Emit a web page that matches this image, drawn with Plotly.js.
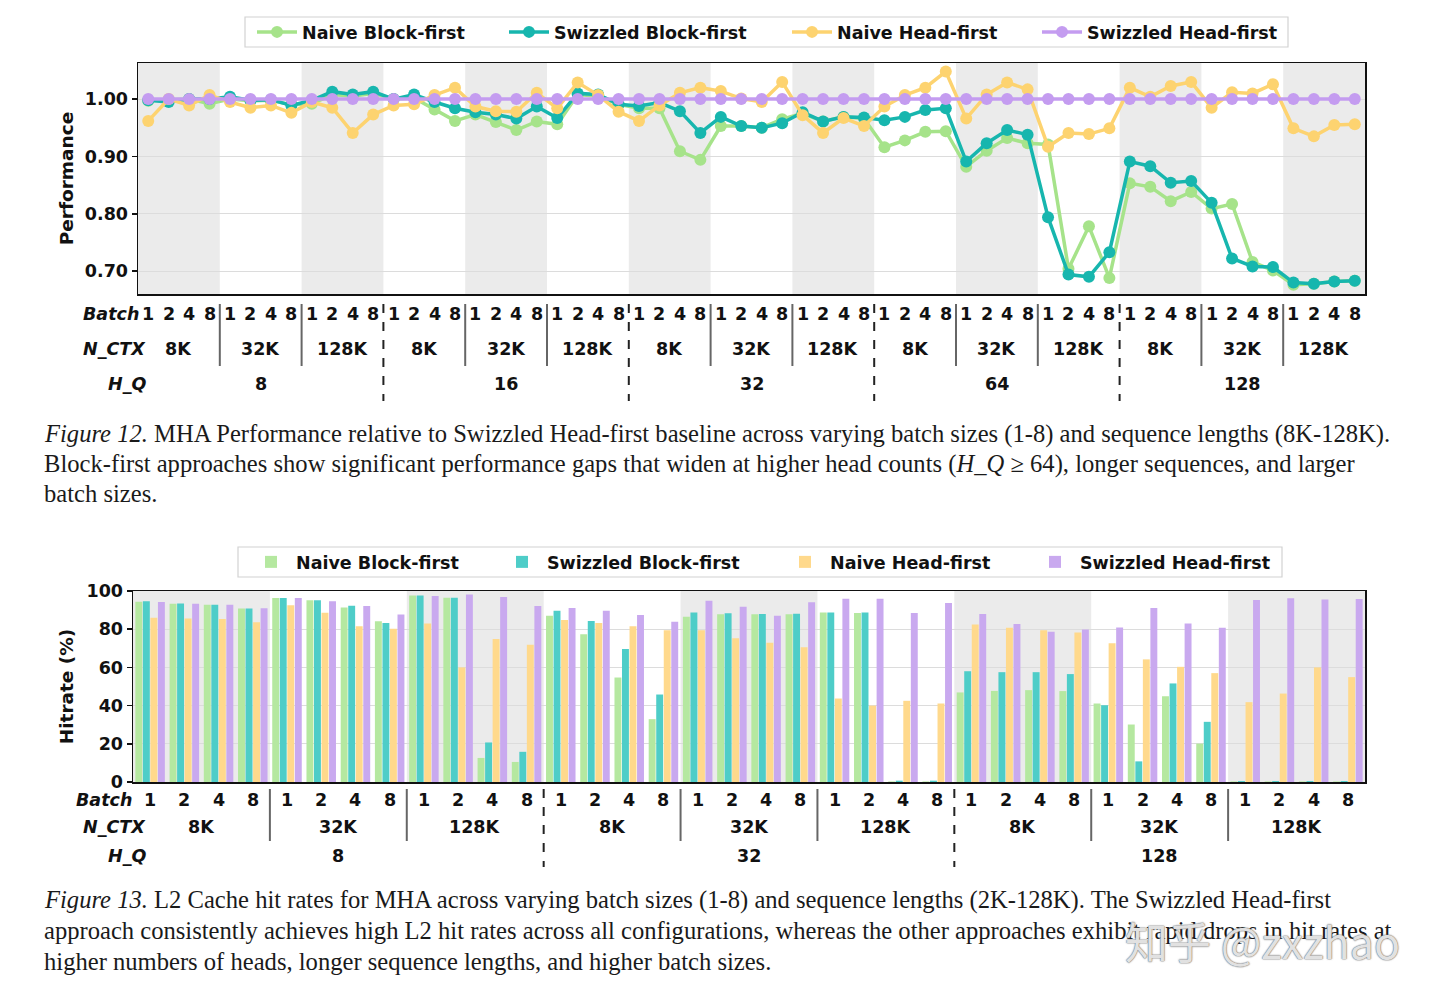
<!DOCTYPE html>
<html>
<head>
<meta charset="utf-8">
<script src="https://cdn.plot.ly/plotly-3.0.1.min.js"></script>
<style>
html,body{margin:0;padding:0;background:#fff;}
#chart{width:1440px;height:996px;}
</style>
</head>
<body>
<div id="chart"></div>
<script>
// ---------- DATA ----------
const seriesNames = ['Naive Block-first', 'Swizzled Block-first', 'Naive Head-first', 'Swizzled Head-first'];
const batchLabels = ['1', '2', '4', '8'];
const ctxLabels = ['8K', '32K', '128K'];
const hqTop = ['8', '16', '32', '64', '128'];
const hqBottom = ['8', '32', '128'];

// Figure 12: relative performance (60 configs: H_Q x N_CTX x Batch)
const perfNaiveBlock = [
  0.997, 0.999, 1.000, 0.992, 1.000, 0.997, 0.998, 0.990, 0.992, 1.008, 1.005, 1.010,
  1.000, 1.002, 0.982, 0.962, 0.973, 0.960, 0.946, 0.961, 0.956, 1.008, 1.005, 0.991,
  0.984, 0.984, 0.909, 0.894, 0.953, 0.953, 0.950, 0.965, 0.975, 0.961, 0.969, 0.966,
  0.916, 0.928, 0.943, 0.944, 0.882, 0.910, 0.932, 0.923, 0.921, 0.704, 0.778, 0.688,
  0.853, 0.847, 0.822, 0.838, 0.809, 0.817, 0.716, 0.701, 0.676, 0.678, 0.682, 0.683];
const perfSwizzledBlock = [
  0.998, 0.995, 1.000, 1.000, 1.004, 0.998, 0.999, 0.989, 0.998, 1.013, 1.008, 1.013,
  1.000, 1.008, 0.995, 0.984, 0.977, 0.973, 0.966, 0.987, 0.967, 1.010, 1.008, 0.991,
  0.988, 0.994, 0.979, 0.941, 0.969, 0.953, 0.950, 0.958, 0.977, 0.961, 0.969, 0.968,
  0.963, 0.969, 0.981, 0.984, 0.891, 0.923, 0.946, 0.938, 0.794, 0.694, 0.690, 0.733,
  0.891, 0.883, 0.854, 0.857, 0.819, 0.722, 0.708, 0.707, 0.680, 0.678, 0.682, 0.683];
const perfNaiveHead = [
  0.962, 1.000, 0.989, 1.007, 0.995, 0.985, 0.989, 0.976, 0.995, 0.985, 0.941, 0.973,
  0.989, 0.991, 1.007, 1.020, 0.987, 0.979, 0.978, 1.011, 0.984, 1.029, 1.007, 0.978,
  0.962, 0.989, 1.011, 1.020, 1.014, 1.001, 0.995, 1.030, 0.972, 0.941, 0.967, 0.953,
  0.987, 1.007, 1.020, 1.048, 0.966, 1.008, 1.029, 1.017, 0.917, 0.941, 0.939, 0.949,
  1.020, 1.004, 1.023, 1.030, 0.985, 1.012, 1.010, 1.026, 0.949, 0.935, 0.955, 0.956];
const perfSwizzledHead = [
  1,1,1,1,1,1,1,1,1,1,1,1, 1,1,1,1,1,1,1,1,1,1,1,1, 1,1,1,1,1,1,1,1,1,1,1,1,
  1,1,1,1,1,1,1,1,1,1,1,1, 1,1,1,1,1,1,1,1,1,1,1,1];

// Figure 13: L2 hit rate % (36 configs: H_Q x N_CTX x Batch)
const hitNaiveBlock = [
  94.4, 93.3, 92.8, 90.9, 96.3, 95.1, 91.4, 84.2, 97.7, 96.5, 12.6, 10.5,
  87.1, 77.4, 54.7, 32.9, 86.5, 87.8, 87.8, 87.8, 88.8, 88.5, 0.3, 0.3,
  46.9, 47.7, 48.1, 47.6, 41.1, 30.1, 44.9, 20.1, 0.3, 0.3, 0.3, 0.3];
const hitSwizzledBlock = [
  94.6, 93.5, 92.8, 90.9, 96.3, 95.1, 92.3, 83.2, 97.7, 96.5, 20.7, 15.8,
  89.7, 84.3, 69.6, 45.8, 88.8, 88.3, 87.9, 88.1, 88.8, 88.8, 0.7, 0.7,
  58.0, 57.5, 57.5, 56.5, 40.2, 10.8, 51.6, 31.5, 0.5, 0.5, 0.5, 0.5];
const hitNaiveHead = [
  86.0, 85.6, 85.4, 83.7, 92.5, 88.6, 81.6, 80.2, 83.0, 60.0, 74.9, 71.9,
  84.8, 83.2, 81.6, 79.5, 79.5, 75.3, 72.9, 70.6, 43.7, 40.0, 42.5, 41.1,
  82.5, 80.8, 79.5, 78.3, 72.6, 64.2, 60.3, 57.0, 41.8, 46.3, 60.0, 54.9];
const hitSwizzledHead = [
  94.2, 93.3, 92.8, 91.0, 96.3, 94.6, 92.1, 87.7, 97.4, 98.2, 96.8, 92.1,
  91.1, 89.7, 87.4, 83.9, 94.9, 91.8, 87.1, 94.1, 96.0, 96.0, 88.5, 93.7,
  87.9, 82.7, 78.7, 79.9, 80.9, 91.1, 83.0, 80.8, 95.3, 96.2, 95.6, 95.8];

const perfYTicks = [0.70, 0.80, 0.90, 1.00];
const hitYTicks = [0, 20, 40, 60, 80, 100];

const captions12 = [
  '<i>Figure 12.</i> MHA Performance relative to Swizzled Head-first baseline across varying batch sizes (1-8) and sequence lengths (8K-128K).',
  'Block-first approaches show significant performance gaps that widen at higher head counts (<i>H_Q</i> ≥ 64), longer sequences, and larger',
  'batch sizes.'];
const captions13 = [
  '<i>Figure 13.</i> L2 Cache hit rates for MHA across varying batch sizes (1-8) and sequence lengths (2K-128K). The Swizzled Head-first',
  'approach consistently achieves high L2 hit rates across all configurations, whereas the other approaches exhibit rapid drops in hit rates at',
  'higher numbers of heads, longer sequence lengths, and higher batch sizes.'];

// ---------- STYLE ----------
const W = 1440, H = 996;
const px = v => v / W;
const py = v => 1 - v / H;
const lineColors = ['#a6e38a', '#17b6ae', '#fdd370', '#c49cf0'];
const barColors = ['#b5e8a0', '#4ecdc8', '#ffd98c', '#c9a9ef'];
const FONT = 'DejaVu Sans, Liberation Sans, sans-serif';
const boldFont = (size, color) => ({family: FONT, size: size, color: color || '#111', weight: 'bold'});
const bi = (size) => ({family: FONT, size: size, color: '#111', weight: 'bold', style: 'italic'});

const perfSeries = [perfNaiveBlock, perfSwizzledBlock, perfNaiveHead, perfSwizzledHead];
const hitSeries = [hitNaiveBlock, hitSwizzledBlock, hitNaiveHead, hitSwizzledHead];

// legend text start positions (px) for each entry
const topLegendTextX = [303, 555, 838, 1088];
const botLegendTextX = [297, 548, 831, 1081];

const nTop = perfNaiveBlock.length;
const nBot = hitNaiveBlock.length;
const xTop = perfNaiveBlock.map((_, i) => i);
const xBot = hitNaiveBlock.map((_, i) => i);

const legendId = k => (k === 0 ? 'legend' : 'legend' + (k + 1));

const traces = [];
perfSeries.forEach((ys, k) => {
  traces.push({
    type: 'scatter', mode: 'lines+markers', name: seriesNames[k],
    x: xTop, y: ys, xaxis: 'x', yaxis: 'y', legend: legendId(k),
    line: {color: lineColors[k], width: 3.5},
    marker: {color: lineColors[k], size: 12},
    cliponaxis: false
  });
});
hitSeries.forEach((ys, k) => {
  traces.push({
    type: 'bar', name: seriesNames[k],
    x: xBot, y: ys, xaxis: 'x2', yaxis: 'y2', legend: legendId(k + 4),
    marker: {color: barColors[k], line: {width: 0}}
  });
});

// ---------- SHAPES (bands & separators & legend frames) ----------
const shapes = [];
function addGroupDecor(nGroups, xref, yDomRef, ySolid, yDash, yTopSep) {
  for (let g = 0; g < nGroups; g++) {
    if (g % 2 === 0) {
      shapes.push({type: 'rect', xref: xref, yref: yDomRef, x0: 4 * g - 0.5, x1: 4 * g + 3.5, y0: 0, y1: 1,
        fillcolor: '#ebebeb', line: {width: 0}, layer: 'below'});
    }
    if (g > 0) {
      const dashed = g % 3 === 0;
      shapes.push({type: 'line', xref: xref, yref: 'paper', x0: 4 * g - 0.5, x1: 4 * g - 0.5,
        y0: py(yTopSep), y1: py(dashed ? yDash : ySolid),
        line: {color: dashed ? '#222' : '#666', width: 2, dash: dashed ? 'dash' : 'solid'}});
    }
  }
}
addGroupDecor(nTop / 4, 'x', 'y domain', 366, 401, 304);
addGroupDecor(nBot / 4, 'x2', 'y2 domain', 841, 867, 789);

function legendFrame(x0, x1, y0, y1) {
  shapes.push({type: 'rect', xref: 'paper', yref: 'paper', x0: px(x0), x1: px(x1), y0: py(y1), y1: py(y0),
    fillcolor: 'rgba(255,255,255,0.85)', line: {color: '#d2d2d2', width: 1.2}, layer: 'above'});
}
legendFrame(245, 1288, 17, 47);
legendFrame(238, 1282, 547, 577);

// ---------- ANNOTATIONS (hierarchical x labels, captions) ----------
const annotations = [];
function addRows(n, xref, hqList, yB, yC, yH, batchRight) {
  for (let i = 0; i < n; i++) {
    annotations.push({xref: xref, yref: 'paper', x: i, y: py(yB), text: batchLabels[i % 4],
      showarrow: false, font: boldFont(17.5), xanchor: 'center', yanchor: 'middle'});
  }
  for (let g = 0; g < n / 4; g++) {
    annotations.push({xref: xref, yref: 'paper', x: 4 * g + 1.5, y: py(yC), text: ctxLabels[g % 3],
      showarrow: false, font: boldFont(17.5), xanchor: 'center', yanchor: 'middle'});
  }
  hqList.forEach((h, j) => {
    annotations.push({xref: xref, yref: 'paper', x: 12 * j + 5.5, y: py(yH), text: h,
      showarrow: false, font: boldFont(17.5), xanchor: 'center', yanchor: 'middle'});
  });
  annotations.push({xref: 'paper', yref: 'paper', x: px(batchRight), y: py(yB), text: 'Batch',
    showarrow: false, font: bi(17.5), xanchor: 'right', yanchor: 'middle'});
  annotations.push({xref: 'paper', yref: 'paper', x: px(148), y: py(yC), text: 'N_CTX',
    showarrow: false, font: bi(17.5), xanchor: 'right', yanchor: 'middle'});
  annotations.push({xref: 'paper', yref: 'paper', x: px(148), y: py(yH), text: 'H_Q',
    showarrow: false, font: bi(17.5), xanchor: 'right', yanchor: 'middle'});
}
addRows(nTop, 'x', hqTop, 314, 349, 384, 141);
addRows(nBot, 'x2', hqBottom, 800, 827, 856, 134);

const capFont = {family: 'Liberation Serif, Times New Roman, serif', size: 24.6, color: '#1a1a1a'};
captions12.forEach((t, i) => annotations.push({xref: 'paper', yref: 'paper', x: px(42), y: py(434 + 30 * i),
  text: t, showarrow: false, xanchor: 'left', yanchor: 'middle', font: capFont}));
captions13.forEach((t, i) => annotations.push({xref: 'paper', yref: 'paper', x: px(42), y: py(900 + 30.5 * i),
  text: t, showarrow: false, xanchor: 'left', yanchor: 'middle', font: capFont}));
annotations.push({xref: 'paper', yref: 'paper', x: px(1262), y: py(940), text: '知乎 @zxzhao',
  showarrow: false, xanchor: 'center', yanchor: 'middle',
  font: {family: 'Noto Sans CJK SC, DejaVu Sans, sans-serif', size: 43, color: 'rgba(255,255,255,0.8)',
    shadow: '0 0 1.5px #777, 0 0 1.5px #777, 0 0 1px #555'}});

// ---------- LAYOUT ----------
const axisCommon = {showline: true, mirror: true, linecolor: '#111', linewidth: 1.5, zeroline: false};
const layout = {
  width: W, height: H,
  margin: {l: 0, r: 0, t: 0, b: 0},
  paper_bgcolor: '#fff', plot_bgcolor: 'rgba(0,0,0,0)',
  font: {family: FONT},
  showlegend: true,
  barmode: 'group', bargap: 0.12, bargroupgap: 0.08,
  xaxis: Object.assign({}, axisCommon, {domain: [px(138), px(1365)], range: [-0.5, nTop - 0.5],
    showticklabels: false, ticks: '', showgrid: false, anchor: 'y'}),
  yaxis: Object.assign({}, axisCommon, {domain: [py(294), py(63)], range: [0.66, 1.063],
    tickvals: perfYTicks, tickformat: '.2f', ticks: 'outside', ticklen: 5, tickwidth: 1.5, tickcolor: '#111',
    showgrid: true, gridcolor: '#dcdcdc', gridwidth: 1, tickfont: boldFont(17.5), anchor: 'x',
    title: {text: 'Performance', font: boldFont(18.5), standoff: 6}}),
  xaxis2: Object.assign({}, axisCommon, {domain: [px(133), px(1365)], range: [-0.5, nBot - 0.5],
    showticklabels: false, ticks: '', showgrid: false, anchor: 'y2'}),
  yaxis2: Object.assign({}, axisCommon, {domain: [py(782), py(591)], range: [0, 100],
    tickvals: hitYTicks, ticks: 'outside', ticklen: 5, tickwidth: 1.5, tickcolor: '#111',
    showgrid: true, gridcolor: '#dcdcdc', gridwidth: 1, tickfont: boldFont(17.5), anchor: 'x2',
    title: {text: 'Hitrate (%)', font: boldFont(18.5), standoff: 8}}),
  shapes: shapes,
  annotations: annotations
};
// one legend per entry, placed so each entry sits where the reference shows it
for (let k = 0; k < 8; k++) {
  const isTop = k < 4;
  const tx = isTop ? topLegendTextX[k] : botLegendTextX[k - 4];
  layout[legendId(k)] = {
    orientation: 'h', x: px(tx - 51), y: py(isTop ? 32 : 562), xanchor: 'left', yanchor: 'middle',
    borderwidth: 0, bgcolor: 'rgba(0,0,0,0)', font: boldFont(17.5), itemwidth: 40
  };
}

Plotly.newPlot('chart', traces, layout, {staticPlot: true, displayModeBar: false});
</script>
</body>
</html>
